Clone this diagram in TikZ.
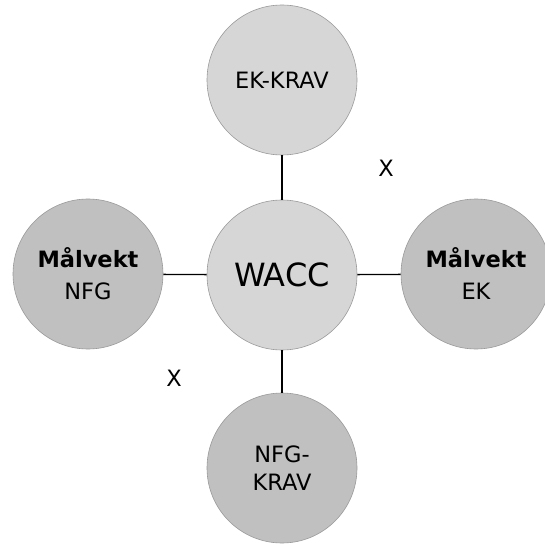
\documentclass[tikz,border=0pt]{standalone}
\usepackage{xcolor}
\usepackage{fontspec}
\usepackage{tikz}
\setmainfont{DejaVu Sans}

\definecolor{lightdisk}{HTML}{D6D6D6}
\definecolor{darkdisk}{HTML}{C0C0C0}
\definecolor{diskrim}{HTML}{9A9A9A}

\begin{document}
\begin{tikzpicture}[x=1pt,y=1pt,
  disk/.style={circle,draw=diskrim,line width=0.6pt,minimum size=150pt,inner sep=0pt,align=center,font=\fontsize{22.5}{28}\selectfont},
  light/.style={disk,fill=lightdisk},
  dark/.style={disk,fill=darkdisk},
  link/.style={line width=1.3pt}]
  \useasboundingbox (0,0) rectangle (545,544);

  \node[light] (wacc)    at (282,269) {\fontsize{32}{38}\selectfont WACC};
  \node[light] (ekkrav)  at (282,464) {EK-KRAV};
  \node[dark]  (mvnfg)   at (88,270)  {\textbf{Målvekt}\\[4pt]NFG};
  \node[dark]  (mvek)    at (476,270) {\textbf{Målvekt}\\[4pt]EK};
  \node[dark]  (nfgkrav) at (282,76)  {NFG-\\KRAV};

  \draw[link] (wacc) -- (ekkrav);
  \draw[link] (wacc) -- (mvnfg);
  \draw[link] (wacc) -- (mvek);
  \draw[link] (wacc) -- (nfgkrav);

  \node[font=\fontsize{22.5}{28}\selectfont] (xtop) at (386,376) {X};
  \node[font=\fontsize{22.5}{28}\selectfont] (xbot) at (174,166) {X};
\end{tikzpicture}
\end{document}
